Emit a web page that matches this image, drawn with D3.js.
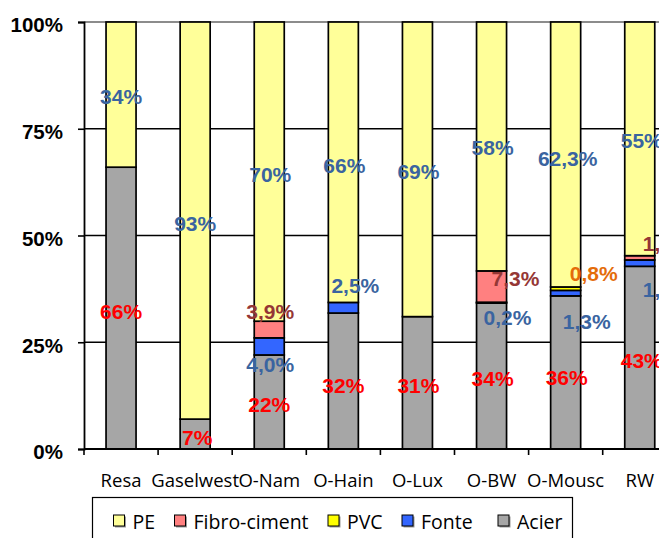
<!DOCTYPE html>
<html>
<head>
<meta charset="utf-8">
<script src="https://cdn.jsdelivr.net/npm/d3@7/dist/d3.min.js"></script>
<style>
  html, body { margin: 0; padding: 0; background: #fff; }
  svg { display: block; }
</style>
</head>
<body>
<svg id="chart" width="659" height="538"></svg>
<script>
// Network operators and the share of each pipe material (percent)
const categories = ["Resa", "Gaselwest", "O-Nam", "O-Hain", "O-Lux", "O-BW", "O-Mousc", "RW"];
const acier = [66, 7, 22, 32, 31, 34, 36, 43];
const fonte = [0, 0, 4.0, 2.5, 0, 0.2, 1.3, 1.5];
const pvc   = [0, 0, 0, 0, 0, 0, 0.8, 0];
const fibro = [0, 0, 3.9, 0, 0, 7.3, 0, 1.0];
const pe    = [34, 93, 70, 66, 69, 58, 62.3, 55];

const yTicks = [0, 0.25, 0.5, 0.75, 1];
const yTickLabels = ["0%", "25%", "50%", "75%", "100%"];

// Series, bottom of the stack first
const series = [
  { key: "Acier", values: acier, fill: "#a6a6a6", text: "#ff0000", decimals: false },
  { key: "Fonte", values: fonte, fill: "#3366ff", text: "#3a64a0", decimals: true },
  { key: "PVC", values: pvc, fill: "#ffff00", text: "#e46c0a", decimals: true },
  { key: "Fibro-ciment", values: fibro, fill: "#ff8080", text: "#953735", decimals: true },
  { key: "PE", values: pe, fill: "#ffff99", text: "#3a64a0", decimals: false }
];
const legendOrder = ["PE", "Fibro-ciment", "PVC", "Fonte", "Acier"];
// Left edge of each legend swatch
const legendSlots = [113.5, 174.5, 328, 402, 498];

// Where each data label sits: height on the percent axis, horizontal nudge from the bar centre
const labelSpots = [
  { cat: "Resa", key: "PE", at: 82.6, dx: 0 },
  { cat: "Resa", key: "Acier", at: 32.3, dx: 0 },
  { cat: "Gaselwest", key: "PE", at: 52.9, dx: 0 },
  { cat: "Gaselwest", key: "Acier", at: 2.7, dx: 2 },
  { cat: "O-Nam", key: "PE", at: 64.4, dx: 1 },
  { cat: "O-Nam", key: "Fibro-ciment", at: 32.3, dx: 1 },
  { cat: "O-Nam", key: "Fonte", at: 19.7, dx: 1 },
  { cat: "O-Nam", key: "Acier", at: 10.4, dx: 0 },
  { cat: "O-Hain", key: "PE", at: 66.4, dx: 1 },
  { cat: "O-Hain", key: "Fonte", at: 38.3, dx: 12 },
  { cat: "O-Hain", key: "Acier", at: 14.9, dx: 0 },
  { cat: "O-Lux", key: "PE", at: 64.9, dx: 1 },
  { cat: "O-Lux", key: "Acier", at: 14.8, dx: 1 },
  { cat: "O-BW", key: "PE", at: 70.7, dx: 1 },
  { cat: "O-BW", key: "Fibro-ciment", at: 39.9, dx: 24 },
  { cat: "O-BW", key: "Fonte", at: 30.7, dx: 16 },
  { cat: "O-BW", key: "Acier", at: 16.6, dx: 1 },
  { cat: "O-Mousc", key: "PE", at: 68.1, dx: 2 },
  { cat: "O-Mousc", key: "PVC", at: 41.0, dx: 28 },
  { cat: "O-Mousc", key: "Fonte", at: 29.8, dx: 21 },
  { cat: "O-Mousc", key: "Acier", at: 16.7, dx: 1 },
  { cat: "RW", key: "PE", at: 72.2, dx: 2 },
  { cat: "RW", key: "Fibro-ciment", at: 48.2, dx: 27 },
  { cat: "RW", key: "Fonte", at: 37.4, dx: 27 },
  { cat: "RW", key: "Acier", at: 20.7, dx: 2 }
];

const svg = d3.select("#chart");
const plotLeft = 84, plotTop = 22, plotBottom = 449, plotRight = 659;
const step = 74.1;

const x = d3.scaleBand()
  .domain(categories)
  .range([plotLeft, plotLeft + step * categories.length])
  .paddingInner(0.595)
  .paddingOuter(0.2975);

const y = d3.scaleLinear().domain([0, 1]).range([plotBottom, plotTop]);

// Rows for the stack layout
const rows = categories.map((c, i) => {
  const r = { cat: c };
  series.forEach(s => { r[s.key] = s.values[i]; });
  return r;
});
const stacked = d3.stack()
  .keys(series.map(s => s.key))
  .offset(d3.stackOffsetExpand)(rows);

// Gridlines
svg.append("g")
  .selectAll("line")
  .data([0.25, 0.5, 0.75])
  .join("line")
  .attr("x1", plotLeft).attr("x2", plotRight)
  .attr("y1", d => y(d)).attr("y2", d => y(d))
  .attr("stroke", "#000").attr("stroke-width", 1.7);

svg.append("line")
  .attr("x1", plotLeft).attr("x2", plotRight)
  .attr("y1", y(1)).attr("y2", y(1))
  .attr("stroke", "#8c8c8c").attr("stroke-width", 1.8);

// Stacked bars
const fillOf = Object.fromEntries(series.map(s => [s.key, s.fill]));
svg.append("g")
  .selectAll("g")
  .data(stacked)
  .join("g")
  .attr("fill", d => fillOf[d.key])
  .selectAll("rect")
  .data(d => d.filter(p => p.data[d.key] > 0))
  .join("rect")
  .attr("x", p => x(p.data.cat))
  .attr("width", x.bandwidth())
  .attr("y", p => y(p[1]))
  .attr("height", p => y(p[0]) - y(p[1]))
  .attr("stroke", "#000")
  .attr("stroke-width", 1.7);

// Y axis
const yAxis = d3.axisLeft(y)
  .tickValues(yTicks)
  .tickFormat((d, i) => yTickLabels[i])
  .tickSize(6)
  .tickPadding(15);
const gy = svg.append("g").attr("transform", `translate(${plotLeft},0)`).call(yAxis);
gy.select(".domain").attr("stroke", "#000").attr("stroke-width", 1.8);
gy.selectAll(".tick line").attr("stroke", "#000").attr("stroke-width", 1.6);
gy.selectAll(".tick text")
  .attr("dy", "0.48em")
  .attr("fill", "#000")
  .style("font-family", "'Liberation Sans', Arial, sans-serif")
  .style("font-weight", "bold")
  .style("font-size", "20.5px");

// X axis with ticks on category boundaries
const gx = svg.append("g").attr("transform", `translate(0,${plotBottom})`);
gx.append("line")
  .attr("x1", plotLeft).attr("x2", plotRight)
  .attr("stroke", "#000").attr("stroke-width", 2.2);
gx.selectAll("line.tick")
  .data(categories)
  .join("line")
  .attr("class", "tick")
  .attr("x1", d => x(d) - x.step() * x.paddingOuter())
  .attr("x2", d => x(d) - x.step() * x.paddingOuter())
  .attr("y1", 0).attr("y2", 6)
  .attr("stroke", "#000").attr("stroke-width", 1.6);
gx.selectAll("text")
  .data(categories)
  .join("text")
  .attr("x", d => x(d) + x.bandwidth() / 2)
  .attr("y", 38)
  .attr("text-anchor", "middle")
  .attr("fill", "#000")
  .style("font-family", "'Open Sans', sans-serif")
  .style("font-size", "18.5px")
  .text(d => d);

// Data labels
const byKey = Object.fromEntries(series.map(s => [s.key, s]));
const fmt = (v, s) => {
  const txt = (s.decimals || !Number.isInteger(v)) ? v.toFixed(1) : String(v);
  return txt.replace(".", ",") + "%";
};
svg.append("g")
  .selectAll("text")
  .data(labelSpots)
  .join("text")
  .attr("x", d => x(d.cat) + x.bandwidth() / 2 + d.dx)
  .attr("y", d => y(d.at / 100))
  .attr("dy", "0.36em")
  .attr("text-anchor", "middle")
  .attr("fill", d => byKey[d.key].text)
  .style("font-family", "'Liberation Sans', Arial, sans-serif")
  .style("font-weight", "bold")
  .style("font-size", "21px")
  .text(d => fmt(byKey[d.key].values[categories.indexOf(d.cat)], byKey[d.key]));

// Legend
const legend = svg.append("g");
legend.append("rect")
  .attr("x", 92.5).attr("y", 497.5)
  .attr("width", 480).attr("height", 60)
  .attr("fill", "#fff").attr("stroke", "#000").attr("stroke-width", 1.2);

legendOrder.forEach((k, i) => {
  const lx = legendSlots[i];
  const item = legend.append("g");
  item.append("rect")
    .attr("x", lx + 1.5).attr("y", 516.5)
    .attr("width", 11).attr("height", 11)
    .attr("fill", "#9a9a9a");
  item.append("rect")
    .attr("x", lx).attr("y", 515)
    .attr("width", 11).attr("height", 11)
    .attr("fill", fillOf[k]).attr("stroke", "#000").attr("stroke-width", 1);
  item.append("text")
    .attr("x", lx + 19).attr("y", 528.5)
    .attr("fill", "#000")
    .style("font-family", "'Open Sans', sans-serif")
    .style("font-size", "19.5px")
    .text(k);
});
</script>
</body>
</html>
